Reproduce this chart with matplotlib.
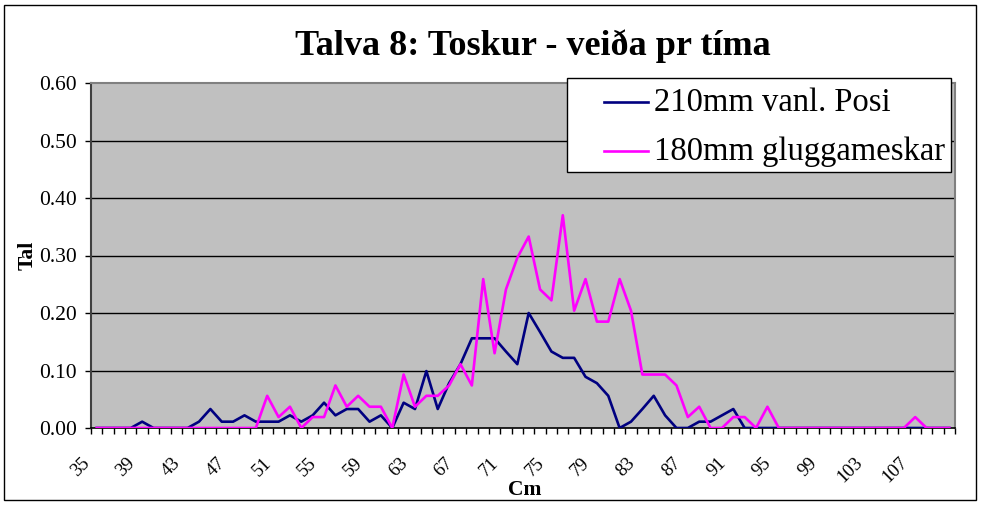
import numpy as np
import matplotlib
matplotlib.use("Agg")
import matplotlib.pyplot as plt
from matplotlib.patches import Rectangle
from matplotlib.lines import Line2D
import matplotlib.transforms as mtransforms

categories = list(range(35, 111))

posi_210 = [0, 0, 0, 0, 0.011, 0, 0, 0, 0, 0.011,
            0.033, 0.011, 0.011, 0.022, 0.011, 0.011, 0.011, 0.022, 0.011, 0.022,
            0.044, 0.022, 0.033, 0.033, 0.011, 0.022, 0, 0.044, 0.033, 0.099,
            0.033, 0.078, 0.111, 0.156, 0.156, 0.156, 0.133, 0.111, 0.200, 0.167,
            0.133, 0.122, 0.122, 0.089, 0.078, 0.056, 0, 0.011, 0.033, 0.056,
            0.022, 0, 0, 0.011, 0.011, 0.022, 0.033, 0, 0, 0,
            0, 0, 0, 0, 0, 0, 0, 0, 0, 0,
            0, 0, 0, 0, 0, 0]

glugga_180 = [0, 0, 0, 0, 0, 0, 0, 0, 0, 0,
              0, 0, 0, 0, 0, 0.056, 0.019, 0.037, 0, 0.019,
              0.019, 0.074, 0.037, 0.056, 0.037, 0.037, 0, 0.093, 0.037, 0.056,
              0.056, 0.074, 0.111, 0.074, 0.259, 0.130, 0.241, 0.296, 0.333, 0.241,
              0.222, 0.370, 0.204, 0.259, 0.185, 0.185, 0.259, 0.204, 0.093, 0.093,
              0.093, 0.074, 0.019, 0.037, 0, 0, 0.019, 0.019, 0, 0.037,
              0, 0, 0, 0, 0, 0, 0, 0, 0, 0,
              0, 0, 0.019, 0, 0, 0]

series_names = ["210mm vanl. Posi", "180mm gluggameskar"]
series_colors = ["#000080", "#FF00FF"]
y_ticks = [0.0, 0.1, 0.2, 0.3, 0.4, 0.5, 0.6]
label_step = 4

serif = ["Liberation Serif", "DejaVu Serif"]
W, H = 982, 507


def fx(px):
    return px / W


def fy(py):
    return 1 - py / H


fig = plt.figure(figsize=(9.82, 5.07), dpi=100)
fig.patch.set_facecolor("white")
fig.patches.append(Rectangle((fx(4), fy(500)), 972 / W, 495 / H,
                             transform=fig.transFigure, fill=False,
                             edgecolor="black", linewidth=1.0))

ax = fig.add_axes([fx(91), fy(428), 864 / W, 345 / H])
ax.set_facecolor("#C0C0C0")

x = np.arange(len(categories))
ax.plot(x, posi_210, color=series_colors[0], linewidth=1.9, zorder=3)
ax.plot(x, glugga_180, color=series_colors[1], linewidth=1.9, zorder=4)

ax.set_xlim(-0.5, len(categories) - 0.5)
ax.set_ylim(0, 0.6)

ax.set_yticks(y_ticks)
ax.set_yticklabels([f"{v:.2f}" for v in y_ticks], fontfamily=serif, fontsize=15.5)
for v in y_ticks[1:-1]:
    ax.axhline(v, color="black", linewidth=1.0, zorder=1)

major = x[::label_step]
ax.set_xticks(major)
ax.set_xticklabels([str(categories[i]) for i in major], fontfamily=serif,
                   fontsize=13.5, rotation=45, ha="right", va="top",
                   rotation_mode="anchor")
ax.set_xticks(np.arange(-0.5, len(categories), 1.0), minor=True)
ax.tick_params(axis="x", which="major", length=0, pad=19)
ax.tick_params(axis="x", which="minor", length=4.5, width=1, color="black")
ax.tick_params(axis="y", length=4.5, width=1, color="black", pad=5.5)
offset = mtransforms.ScaledTranslation(-16 / 100, 0, fig.dpi_scale_trans)
for lbl in ax.get_xticklabels():
    lbl.set_transform(lbl.get_transform() + offset)

for side in ["top", "right"]:
    ax.spines[side].set_color("#808080")
    ax.spines[side].set_linewidth(1.5)
ax.spines["left"].set_color("#404040")
ax.spines["left"].set_linewidth(1.5)
ax.spines["bottom"].set_color("black")
ax.spines["bottom"].set_linewidth(1.2)

fig.text(fx(525), fy(490), "Cm", fontfamily=serif, fontsize=15.5,
         fontweight="bold", ha="center", va="center")
fig.text(fx(28), fy(255), "Tal", fontfamily=serif, fontsize=15.5,
         fontweight="bold", ha="center", va="center", rotation=90)

fig.text(fx(533), fy(46), "Talva 8: Toskur - veiða pr tíma",
         fontfamily=serif, fontsize=26, fontweight="bold", ha="center", va="center")

# legend (drawn manually to match the reference box)
fig.patches.append(Rectangle((fx(567), fy(172)), (951 - 567) / W, (172 - 78) / H,
                             transform=fig.transFigure, facecolor="white",
                             edgecolor="black", linewidth=1.0, zorder=10))
for k, (name, col) in enumerate(zip(series_names, series_colors)):
    yy = 102 + 49 * k
    fig.lines.append(Line2D([fx(604), fx(648)], [fy(yy), fy(yy)],
                            transform=fig.transFigure, color=col,
                            linewidth=1.9, zorder=11))
    fig.text(fx(654), fy(yy + 1), name, fontfamily=serif, fontsize=23.5,
             ha="left", va="center", zorder=12)

fig.savefig("out.png", dpi=100)
